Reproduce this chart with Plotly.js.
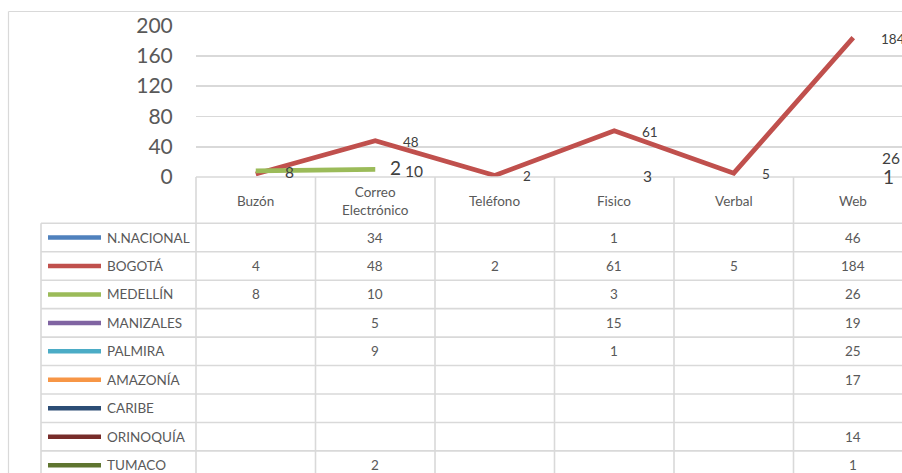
<!DOCTYPE html>
<html>
<head>
<meta charset="utf-8">
<script src="https://cdn.plot.ly/plotly-3.0.1.min.js"></script>
<style>html,body{margin:0;padding:0;overflow:hidden;background:#fff}#chart{width:902px;height:473px}</style>
</head>
<body>
<div id="chart"></div>
<script>
// ---- data ----
const categories = ['Buzón', 'Correo Electrónico', 'Teléfono', 'Fisico', 'Verbal', 'Web'];
const headerLabels = ['Buzón', 'Correo<br>Electrónico', 'Teléfono', 'Fisico', 'Verbal', 'Web'];
const seriesNames = ['N.NACIONAL', 'BOGOTÁ', 'MEDELLÍN', 'MANIZALES', 'PALMIRA', 'AMAZONÍA', 'CARIBE', 'ORINOQUÍA', 'TUMACO'];
const nNacional = [null, 34, null, 1, null, 46];
const bogota    = [4, 48, 2, 61, 5, 184];
const medellin  = [8, 10, null, 3, null, 26];
const manizales = [null, 5, null, 15, null, 19];
const palmira   = [null, 9, null, 1, null, 25];
const amazonia  = [null, null, null, null, null, 17];
const caribe    = [null, null, null, null, null, null];
const orinoquia = [null, null, null, null, null, 14];
const tumaco    = [null, 2, null, null, null, 1];
const yTicks = [0, 40, 80, 120, 160, 200];

// ---- styling ----
const seriesValues = [nNacional, bogota, medellin, manizales, palmira, amazonia, caribe, orinoquia, tumaco];
const colors = ['#4f81bd', '#c0504d', '#9bbb59', '#8064a2', '#4bacc6', '#f79646', '#2c4d75', '#772c2a', '#5f7530'];
const W = 902, H = 473;
const FONT = 'Lato, "Open Sans", sans-serif';
const GRID = '#d9d9d9';
const TXT = '#595959';
const plotLeft = 196, plotTop = 25.5, plotBottom = 177, colW = 119.5;
const tableTop = 223.3, rowH = 28.45, legLeft = 41;
const px = v => v / W;
const py = v => 1 - v / H;

const xs = categories.map((c, i) => i);
const traces = seriesValues.map((vals, k) => ({
  type: 'scatter', mode: 'lines', x: xs, y: vals, name: seriesNames[k],
  connectgaps: false, hoverinfo: 'skip', showlegend: false,
  line: {color: colors[k], width: 4.8}
}));

const shapes = [];
const annotations = [];
const line = (x0, y0, x1, y1, color, width) => shapes.push({
  type: 'line', xref: 'paper', yref: 'paper', x0: px(x0), y0: py(y0), x1: px(x1), y1: py(y1),
  line: {color: color, width: width}, layer: 'above'
});

// outer chart border
line(8.5, 11.5, W, 11.5, GRID, 1.2);
line(8.5, 11.5, 8.5, H, GRID, 1.2);

// table grid
const nRows = seriesNames.length;
for (let i = 0; i <= categories.length; i++) {
  const x = plotLeft + i * colW;
  if (x <= W + 20) line(x, plotBottom, x, H, GRID, 1.6);
}
line(legLeft, tableTop, legLeft, H, GRID, 1.6);
line(plotLeft, plotBottom, W, plotBottom, GRID, 1.6);
for (let r = 0; r <= nRows; r++) {
  const y = tableTop + r * rowH;
  if (y < H) line(legLeft, y, W, y, GRID, 1.6);
}

// header labels
headerLabels.forEach((lab, i) => annotations.push({
  xref: 'x', yref: 'paper', x: i, y: py((plotBottom + tableTop) / 2 + 1), text: lab,
  showarrow: false, xanchor: 'center', yanchor: 'middle',
  font: {family: FONT, size: 13.5, color: TXT}
}));

// legend rows + values
seriesNames.forEach((name, r) => {
  const cy = tableTop + (r + 0.5) * rowH;
  line(48, cy, 101, cy, colors[r], 4.5);
  annotations.push({
    xref: 'paper', yref: 'paper', x: px(105), y: py(cy), text: name, showarrow: false,
    xanchor: 'left', yanchor: 'middle', font: {family: FONT, size: 13.5, color: TXT}
  });
  seriesValues[r].forEach((v, i) => {
    if (v === null) return;
    annotations.push({
      xref: 'x', yref: 'paper', x: i, y: py(cy), text: String(v), showarrow: false,
      xanchor: 'center', yanchor: 'middle', font: {family: FONT, size: 13.5, color: TXT}
    });
  });
});

// data labels on the chart (shifts in pixels, positive = up)
const labelStyle = {
  1: {size: 13.5, dx: [26, 26, 26, 26, 26, 26], up: [-1, -1, -1, -1, -1, -1], skip: [0]},
  2: {size: 15.5, dx: [27, 28, 27, 27, 27, 27], up: [-1, -1.5, -1, -1, -1, -1], skip: []},
  8: {size: 19, dx: [28, 13, 28, 28, 28, 28], up: [0, 8, 0, 0, 0, -0.5], skip: []}
};
Object.keys(labelStyle).forEach(k => {
  const st = labelStyle[k];
  seriesValues[k].forEach((v, i) => {
    if (v === null || st.skip.indexOf(i) >= 0) return;
    annotations.push({
      xref: 'x', yref: 'y', x: i, y: v, text: String(v), showarrow: false,
      xanchor: 'left', yanchor: 'middle', xshift: st.dx[i], yshift: st.up[i],
      font: {family: FONT, size: st.size, color: '#404040'}
    });
  });
});

const layout = {
  width: W, height: H, autosize: false,
  margin: {l: 0, r: 0, t: 0, b: 0, pad: 0},
  paper_bgcolor: '#fff', plot_bgcolor: 'rgba(0,0,0,0)',
  showlegend: false,
  xaxis: {
    domain: [px(plotLeft), 1], range: [-0.5, -0.5 + (W - plotLeft) / colW],
    showgrid: false, zeroline: false, showticklabels: false, ticks: '', showline: false, fixedrange: true
  },
  yaxis: {
    domain: [py(plotBottom), py(plotTop)], range: [0, 200],
    tickvals: yTicks, ticktext: yTicks.map(String),
    showgrid: true, gridcolor: GRID, gridwidth: 1.6, zeroline: false, showline: false,
    ticks: 'outside', ticklen: 18, tickcolor: 'rgba(0,0,0,0)',
    tickfont: {family: FONT, size: 21, color: TXT}, fixedrange: true
  },
  shapes: shapes,
  annotations: annotations
};

Plotly.newPlot('chart', traces, layout, {staticPlot: true, displayModeBar: false});
</script>
</body>
</html>
